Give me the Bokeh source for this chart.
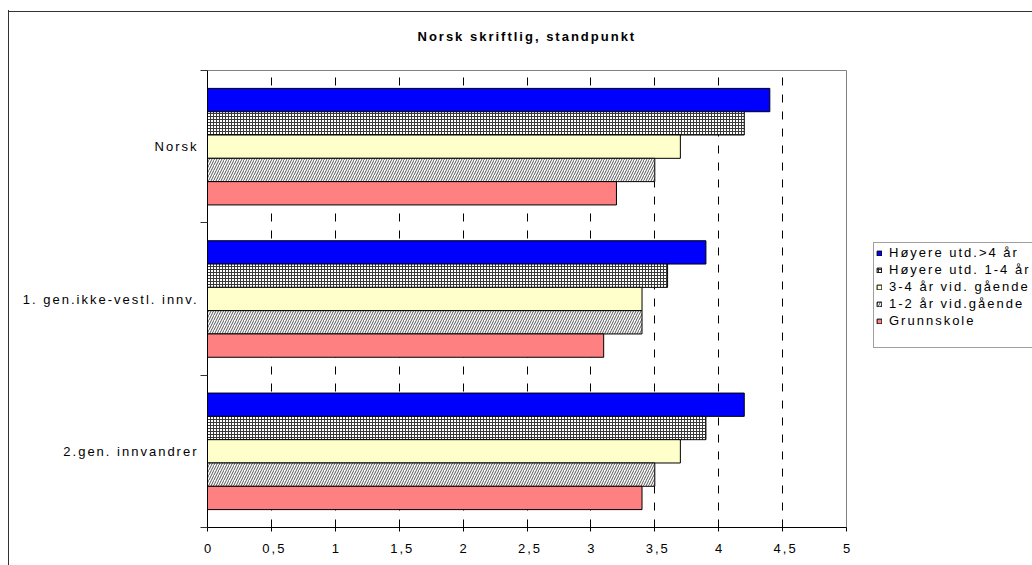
from bokeh.plotting import figure
from bokeh.models import Range1d, FixedTicker, Legend, LegendItem, Div, ColumnDataSource
from bokeh.layouts import row, column
from bokeh.embed import file_html
from bokeh.resources import INLINE
from bokeh.core.properties import value

# ---- data ----
categories = ["Norsk", "1. gen.ikke-vestl. innv.", "2.gen. innvandrer"]
series_names = ["Høyere utd.>4 år", "Høyere utd. 1-4 år", "3-4 år vid. gående",
                "1-2 år vid.gående", "Grunnskole"]
hoyere_over4 = [4.4, 3.9, 4.2]
hoyere_1_4 = [4.2, 3.6, 3.9]
vid_3_4 = [3.7, 3.4, 3.7]
vid_1_2 = [3.5, 3.4, 3.5]
grunnskole = [3.2, 3.1, 3.4]
x_ticks = [0, 0.5, 1, 1.5, 2, 2.5, 3, 3.5, 4, 4.5, 5]
x_tick_labels = ["0", "0,5", "1", "1,5", "2", "2,5", "3", "3,5", "4", "4,5", "5"]
title_text = "Norsk skriftlig, standpunkt"

series_values = [hoyere_over4, hoyere_1_4, vid_3_4, vid_1_2, grunnskole]
styles = [
    dict(fill_color="#0000FF"),
    dict(fill_color="white", hatch_pattern="+", hatch_color="#3a3a3a", hatch_scale=3, hatch_weight=1),
    dict(fill_color="#FFFFCC"),
    dict(fill_color="white", hatch_pattern="/", hatch_color="#555555", hatch_scale=5, hatch_weight=1),
    dict(fill_color="#FF8080"),
]

# ---- layout constants (pixels) ----
FONT = "Liberation Sans"
FS = "13px"
LS = 2  # letter spacing
W, H = 1032, 565
TOP_H = 12
BORDER_W = 9
BORDER_TOP = 10
FRAME_L, FRAME_R, FRAME_T, FRAME_B = 207, 846, 69, 527
LABEL_RIGHT = 196
TICK_SPACE = 8
RIGHT_SPACE = 10
TITLE_LEFT = 417
TITLE_STANDOFF = 53
LEG_X, LEG_BOTTOM = 873, 348

n_cat = len(categories)
n_ser = len(series_names)
bar_h = 0.153

fig_h = H
left_w = FRAME_L - TICK_SPACE - BORDER_W
main_w = TICK_SPACE + (FRAME_R - FRAME_L) + RIGHT_SPACE
right_x0 = BORDER_W + left_w + main_w
right_w = W - right_x0
mb_top = FRAME_T
mb_bottom = fig_h - FRAME_B

text_style = {"letter-spacing": f"{LS}px"}

# ---- main figure ----
p = figure(width=main_w, height=fig_h, x_range=Range1d(0, 5), y_range=Range1d(0, n_cat),
           output_backend="svg", toolbar_location=None,
           min_border_left=TICK_SPACE, min_border_right=RIGHT_SPACE,
           min_border_top=mb_top, min_border_bottom=mb_bottom)
p.styles = text_style
p.background_fill_color = "white"
p.border_fill_color = None
p.outline_line_color = "#808080"
p.outline_line_width = 1

p.title.text = title_text
p.title.align = "left"
p.title.offset = TITLE_LEFT - FRAME_L
p.title.vertical_align = "bottom"
p.title.standoff = TITLE_STANDOFF
p.title.text_font = FONT
p.title.text_font_size = FS
p.title.text_font_style = "bold"
p.title.text_color = "black"

xa = p.xaxis[0]
xa.ticker = FixedTicker(ticks=x_ticks, minor_ticks=[])
xa.major_label_overrides = {t: l for t, l in zip(x_ticks, x_tick_labels)}
xa.axis_line_color = "black"
xa.major_tick_line_color = "black"
xa.major_tick_out = 4
xa.major_tick_in = 0
xa.minor_tick_line_color = None
xa.major_label_text_font = FONT
xa.major_label_text_font_size = FS
xa.major_label_text_color = "black"
xa.major_label_standoff = 12

cat_pos = [n_cat - 1 - i + 0.5 for i in range(n_cat)]
ya = p.yaxis[0]
ya.ticker = FixedTicker(ticks=[], minor_ticks=list(range(n_cat + 1)))
ya.axis_line_color = "black"
ya.major_tick_line_color = None
ya.major_tick_out = 0
ya.major_tick_in = 0
ya.minor_tick_line_color = "#333333"
ya.minor_tick_out = 7
ya.minor_tick_in = 0
ya.major_label_text_font_size = "0px"

p.xgrid.grid_line_color = "black"
p.xgrid.grid_line_dash = "8 9"
p.xgrid.grid_line_width = 1
p.ygrid.grid_line_color = None

bar_sources = []
for j, (name, vals, st) in enumerate(zip(series_names, series_values, styles)):
    ys = [cat_pos[i] + ((n_ser - 1) / 2 - j) * bar_h for i in range(n_cat)]
    src = ColumnDataSource(dict(y=ys, right=vals))
    bar_sources.append(src)
    p.hbar(y="y", left=0, right="right", height=bar_h, source=src,
           line_color="black", line_width=1, **st)

# ---- left figure holding the category labels ----
pl = figure(width=left_w, height=fig_h, x_range=Range1d(BORDER_W, BORDER_W + left_w),
            y_range=Range1d(0, n_cat),
            output_backend="svg", toolbar_location=None, x_axis_type=None, y_axis_type=None,
            min_border_left=0, min_border_right=0, min_border_top=mb_top, min_border_bottom=mb_bottom)
pl.styles = text_style
pl.outline_line_color = None
pl.background_fill_color = "white"
pl.border_fill_color = None
lab_src = ColumnDataSource(dict(
    x=[LABEL_RIGHT] * n_cat, y=cat_pos, text=categories,
    xoff=[-(len(c) - 1) * LS for c in categories]))
pl.text(x="x", y="y", text="text", x_offset="xoff", source=lab_src,
        text_align="right", text_baseline="middle",
        text_font=value(FONT), text_font_size=FS, text_color="black")

# ---- right figure holding the legend (proxy renderers share the data, kept out of view) ----
pr = figure(width=right_w, height=fig_h, x_range=Range1d(-2, -1), y_range=Range1d(0, n_cat),
            output_backend="svg", toolbar_location=None, x_axis_type=None, y_axis_type=None,
            min_border_left=0, min_border_right=0, min_border_top=mb_top, min_border_bottom=mb_bottom)
pr.styles = text_style
pr.outline_line_color = None
pr.background_fill_color = "white"
pr.border_fill_color = None
pr.xgrid.visible = False
pr.ygrid.visible = False
items = []
for name, st, src in zip(series_names, styles, bar_sources):
    r = pr.hbar(y="y", left=0, right="right", height=bar_h, source=src,
                line_color="black", line_width=1, **st)
    items.append(LegendItem(label=name, renderers=[r]))
spacer = pr.hbar(y="y", left=0, right="right", height=bar_h, source=bar_sources[0],
                 fill_color=None, line_color=None)
items.append(LegendItem(label="", renderers=[spacer]))

legend = Legend(items=items, location=(LEG_X - right_x0, FRAME_B - LEG_BOTTOM),
                orientation="vertical",
                label_text_font=FONT, label_text_font_size=FS, label_text_color="black",
                glyph_width=6, glyph_height=6, label_height=15, label_width=152,
                label_standoff=7, spacing=2, padding=2, margin=0,
                border_line_color="#404040", border_line_width=1,
                background_fill_color="white", background_fill_alpha=1)
pr.add_layout(legend, "center")

left_border = Div(text="", width=BORDER_W, height=fig_h - BORDER_TOP, margin=(BORDER_TOP, 0, 0, 0),
                  styles={"border-right": "1.5px solid #333333", "box-sizing": "border-box"})
top_bar = Div(text="", width=W - 8, height=TOP_H, margin=(0, 0, 0, 8),
              styles={"border-bottom": "1.5px solid #333333", "box-sizing": "border-box"})

charts = row(left_border, pl, p, pr, spacing=0, margin=(-TOP_H, 0, 0, 0))
layout = column(top_bar, charts, spacing=0)
open("out.html", "w").write(file_html(layout, INLINE))
